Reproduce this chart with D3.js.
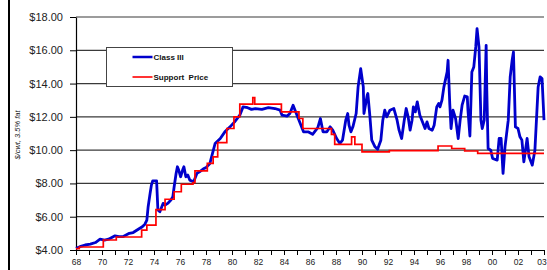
<!DOCTYPE html>
<html>
<head>
<meta charset="utf-8">
<script src="https://cdn.jsdelivr.net/npm/d3@7/dist/d3.min.js"></script>
<style>
  body { margin: 0; background: #fff; }
  svg { display: block; font-family: Arial, "Liberation Sans", sans-serif; }
</style>
</head>
<body>
<svg id="chart" width="547" height="270"></svg>
<script>
const width = 547;
const height = 270;
const margin = {top: 17, right: 3, bottom: 20, left: 76};

// Class III (BFP) price, [year, $/cwt]
const classIII = [
  [1968.0, 4.1], [1968.3, 4.2], [1968.7, 4.3], [1969.1, 4.35], [1969.5, 4.45], [1969.85, 4.65],
  [1970.2, 4.6], [1970.5, 4.65], [1971.0, 4.85], [1971.3, 4.8], [1971.6, 4.8], [1972.1, 5.0],
  [1972.4, 5.05], [1972.7, 5.2], [1973.1, 5.4], [1973.3, 5.55], [1973.45, 5.8], [1973.55, 6.6],
  [1973.7, 7.4], [1973.8, 7.9], [1973.9, 8.15], [1974.2, 8.15], [1974.3, 6.4], [1974.45, 6.3],
  [1974.6, 6.6], [1974.7, 6.8], [1974.85, 6.7], [1975.05, 6.8], [1975.3, 7.0], [1975.45, 7.2],
  [1975.55, 7.8], [1975.7, 8.6], [1975.8, 9.0], [1975.9, 8.8], [1976.05, 8.4], [1976.2, 8.8],
  [1976.3, 9.0], [1976.45, 8.4], [1976.6, 8.5], [1976.75, 8.2], [1977.05, 8.1], [1977.3, 8.6],
  [1977.5, 8.7], [1977.85, 8.9], [1978.0, 8.95], [1978.3, 9.2], [1978.5, 9.8], [1978.7, 10.4],
  [1979.1, 10.7], [1979.45, 11.1], [1979.85, 11.4], [1980.2, 11.7], [1980.6, 12.1], [1980.85, 12.6],
  [1981.2, 12.55], [1981.5, 12.45], [1981.8, 12.5], [1982.3, 12.45], [1982.8, 12.55], [1983.3, 12.5],
  [1983.7, 12.4], [1983.85, 12.1], [1984.25, 12.05], [1984.45, 12.2], [1984.7, 12.7], [1985.0, 12.1],
  [1985.25, 11.6], [1985.5, 11.1], [1985.85, 11.1], [1986.2, 10.95], [1986.6, 11.35], [1986.8, 11.9],
  [1987.0, 11.1], [1987.3, 11.1], [1987.55, 11.4], [1987.75, 11.2], [1988.05, 10.7], [1988.3, 10.4],
  [1988.5, 10.6], [1988.75, 11.8], [1988.9, 12.2], [1989.0, 11.5], [1989.15, 11.1], [1989.3, 11.4],
  [1989.55, 12.2], [1989.7, 13.8], [1989.9, 14.9], [1990.1, 13.8], [1990.15, 12.2], [1990.4, 13.3],
  [1990.45, 13.4], [1990.6, 12.1], [1990.75, 10.6], [1991.0, 10.2], [1991.2, 10.05], [1991.45, 10.6],
  [1991.6, 11.8], [1991.75, 12.4], [1991.9, 12.0], [1992.15, 12.4], [1992.45, 12.5], [1992.7, 11.8],
  [1992.85, 11.2], [1993.05, 10.7], [1993.25, 11.8], [1993.4, 12.5], [1993.55, 12.0], [1993.7, 11.2],
  [1993.85, 11.8], [1993.95, 12.6], [1994.1, 12.3], [1994.25, 12.9], [1994.45, 12.1], [1994.7, 11.6],
  [1994.85, 11.3], [1995.0, 11.7], [1995.15, 11.3], [1995.4, 11.2], [1995.55, 11.5], [1995.75, 12.6],
  [1995.9, 12.8], [1996.0, 12.6], [1996.15, 13.0], [1996.3, 13.8], [1996.55, 14.7], [1996.62, 15.4],
  [1996.75, 12.8], [1996.85, 11.3], [1997.0, 12.4], [1997.2, 11.9], [1997.4, 10.7], [1997.55, 11.8],
  [1997.7, 12.7], [1997.9, 13.25], [1998.1, 13.2], [1998.15, 12.4], [1998.3, 10.85], [1998.45, 14.7],
  [1998.6, 15.0], [1998.75, 16.2], [1998.85, 17.3], [1999.0, 16.2], [1999.15, 11.8], [1999.25, 11.3],
  [1999.4, 11.8], [1999.55, 16.3], [1999.6, 13.6], [1999.7, 10.1], [1999.9, 10.0], [2000.05, 9.5],
  [2000.4, 9.4], [2000.55, 10.7], [2000.7, 10.7], [2000.85, 8.6], [2001.0, 10.2], [2001.25, 11.8],
  [2001.4, 14.4], [2001.55, 15.4], [2001.65, 15.9], [2001.8, 11.4], [2002.0, 11.3], [2002.15, 10.8],
  [2002.3, 10.6], [2002.45, 9.3], [2002.7, 10.7], [2002.85, 9.6], [2003.1, 9.1], [2003.3, 10.0],
  [2003.55, 13.8], [2003.7, 14.4], [2003.85, 14.3], [2004.0, 11.8]
];

// support price, steps start at [year, $/cwt]
const supportPrice = [
  [1968.0, 4.08], [1968.25, 4.18], [1970.1, 4.6], [1971.1, 4.78], [1973.05, 5.2], [1973.45, 5.5],
  [1974.15, 6.42], [1974.85, 7.05], [1975.55, 7.5], [1976.1, 7.95], [1977.0, 8.05], [1977.15, 8.75],
  [1978.1, 9.2], [1978.55, 9.6], [1978.9, 10.45], [1979.6, 11.3], [1980.15, 12.0], [1980.6, 12.77],
  [1981.6, 13.15], [1981.75, 12.77], [1983.8, 12.3], [1985.15, 11.9], [1985.45, 11.3], [1987.65, 10.95],
  [1987.9, 10.35], [1989.2, 10.8], [1989.45, 10.35], [1990.0, 9.9], [1992.1, 9.97], [1995.85, 10.25],
  [1996.9, 10.1], [1997.9, 9.95], [1998.9, 9.8], [2004.0, 9.8]
];

const yTicks = [4, 6, 8, 10, 12, 14, 16, 18];
const xLabelYears = [1968, 1970, 1972, 1974, 1976, 1978, 1980, 1982, 1984, 1986, 1988, 1990,
  1992, 1994, 1996, 1998, 2000, 2002, 2004];
const xLabels = ["68", "70", "72", "74", "76", "78", "80", "82", "84", "86", "88", "90",
  "92", "94", "96", "98", "00", "02", "03"];
const legendItems = [
  {name: "Class III", color: "#0000cc", w: 2.5},
  {name: "Support  Price", color: "#ff0000", w: 1.6}
];

const svg = d3.select("#chart");

const x = d3.scaleLinear().domain([1968, 2004]).range([margin.left, width - margin.right]);
const y = d3.scaleLinear().domain([4, 18]).range([height - margin.bottom, margin.top]);

// left frame edge
svg.append("rect").attr("x", 8).attr("y", 0).attr("width", 2).attr("height", height).attr("fill", "#000");

// gridlines
svg.append("g")
  .selectAll("line")
  .data(yTicks.slice(1)).enter()
  .append("line")
  .attr("x1", x(1968)).attr("x2", x(2004))
  .attr("y1", d => y(d)).attr("y2", d => y(d))
  .attr("stroke", "#3a3a3a")
  .attr("stroke-width", 1.2);

// y axis
let y_axis = d3.axisLeft(y)
  .tickValues(yTicks)
  .tickSize(6)
  .tickSizeOuter(0)
  .tickPadding(7)
  .tickFormat(d3.format("$.2f"));
let gy = svg.append("g")
  .attr("transform", `translate(${margin.left}, 0)`)
  .call(y_axis);
gy.select(".domain").attr("stroke", "#000").attr("stroke-width", 1.2);
gy.selectAll(".tick line").attr("stroke", "#000");
gy.selectAll("text").attr("font-size", 11).attr("fill", "#222").attr("font-family", "Arial, 'Liberation Sans', sans-serif");

// x axis, one tick a year, label every second
let labelOf = new Map(xLabelYears.map((yr, i) => [yr, xLabels[i]]));
let x_axis = d3.axisBottom(x)
  .tickValues(d3.range(1968, 2005))
  .tickSize(5)
  .tickSizeOuter(0)
  .tickPadding(4)
  .tickFormat(d => labelOf.get(d) || "");
let gx = svg.append("g")
  .attr("transform", `translate(0, ${y(4)})`)
  .call(x_axis);
gx.select(".domain").attr("stroke", "#000").attr("stroke-width", 1.2);
gx.selectAll(".tick line").attr("stroke", "#000");
gx.selectAll("text").attr("font-size", 8.5).attr("fill", "#222").attr("font-family", "Arial, 'Liberation Sans', sans-serif");
// last label sits on the plot's right edge; nudge it inside
gx.selectAll(".tick").filter(d => d === 2004).select("text").attr("dx", -2.5);

// y title
svg.append("text")
  .attr("transform", "translate(20, 135) rotate(-90)")
  .attr("text-anchor", "middle")
  .attr("font-size", 7.5)
  .attr("font-style", "italic")
  .attr("fill", "#222")
  .text("$/cwt, 3.5% fat");

// lines
let line = d3.line().x(d => x(d[0])).y(d => y(d[1]));
let stepLine = d3.line().x(d => x(d[0])).y(d => y(d[1])).curve(d3.curveStepAfter);

svg.append("path")
  .attr("d", line(classIII))
  .attr("fill", "none")
  .attr("stroke", "#0000cc")
  .attr("stroke-width", 2.8)
  .attr("stroke-linejoin", "round");

svg.append("path")
  .attr("d", stepLine(supportPrice))
  .attr("fill", "none")
  .attr("stroke", "#ff0000")
  .attr("stroke-width", 1.7);

// legend
let legend = svg.append("g").attr("transform", "translate(106.5, 47.5)");
legend.append("rect")
  .attr("width", 126).attr("height", 39)
  .attr("fill", "#fff").attr("stroke", "#444").attr("stroke-width", 1);
let item = legend.selectAll("g.item")
  .data(legendItems).enter()
  .append("g")
  .attr("transform", (d, i) => `translate(0, ${9.5 + i * 20})`);
item.append("line")
  .attr("x1", 26).attr("x2", 46)
  .attr("stroke", d => d.color)
  .attr("stroke-width", d => d.w);
item.append("text")
  .attr("x", 47).attr("dy", "0.35em")
  .attr("font-size", 8)
  .attr("font-weight", "bold")
  .attr("fill", "#111")
  .attr("xml:space", "preserve")
  .style("white-space", "pre")
  .text(d => d.name);
</script>
</body>
</html>
